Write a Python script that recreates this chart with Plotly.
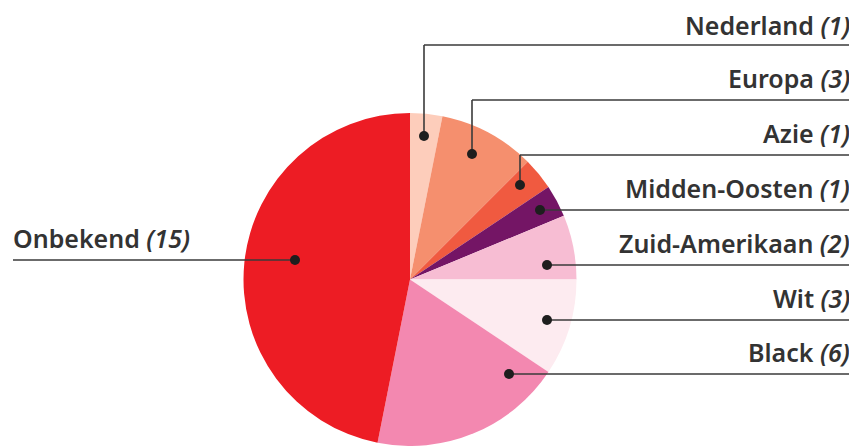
import plotly.graph_objects as go

# page body has an 8px margin, so the figure is drawn 8px smaller and all
# reference pixel positions are shifted by OFF
OFF = 8
W, H = 857 - OFF, 446 - OFF

categories = ["Nederland", "Europa", "Azie", "Midden-Oosten", "Zuid-Amerikaan", "Wit", "Black", "Onbekend"]
values = [1, 3, 1, 1, 2, 3, 6, 15]
colors = ["#FDCDBB", "#F58F6E", "#F05A40", "#741565", "#F7BDD3", "#FDEBF0", "#F388B0", "#ED1C24"]

# label callouts (reference pixel positions): dot x, dot y, horizontal line y
dots = {
    "Nederland": (424, 136, 45),
    "Europa": (472, 154, 100),
    "Azie": (520, 185, 155),
    "Midden-Oosten": (540, 210, 210),
    "Zuid-Amerikaan": (547, 265, 265),
    "Wit": (547, 320, 320),
    "Black": (509, 374, 374),
    "Onbekend": (295, 260, 260),
}

cx, cy, r = 410 - OFF, 280 - OFF, 167
y0 = max(0.0, (H - cy - r) / H)
y1 = (H - cy + r) / H

fig = go.Figure(go.Pie(
    labels=categories, values=values, sort=False, direction="clockwise",
    rotation=0, marker=dict(colors=colors, line=dict(width=0)),
    textinfo="none", hoverinfo="none", showlegend=False,
    domain=dict(x=[(cx - r) / W, (cx + r) / W], y=[y0, y1]),
))

def px(x):
    return (x - OFF) / W

def py(y):
    return 1 - (y - OFF) / H

shapes = []
annotations = []
line_col = "#3a3a3a"
font = dict(family="Noto Sans", size=25, color="#333333", weight=600)
for name, v in zip(categories, values):
    dx, dy, ly = dots[name]
    gap = 2 if name == "Nederland" else 4
    if name == "Onbekend":
        shapes.append(dict(type="line", xref="paper", yref="paper", x0=px(13), x1=px(dx), y0=py(ly), y1=py(ly),
                           line=dict(color=line_col, width=1.6)))
        annotations.append(dict(xref="paper", yref="paper", x=px(12), y=py(ly - gap), xanchor="left", yanchor="bottom",
                                borderpad=0, text=f"{name} <i>({v})</i>", showarrow=False, font=font))
    else:
        if ly != dy:
            shapes.append(dict(type="line", xref="paper", yref="paper", x0=px(dx), x1=px(dx), y0=py(dy), y1=py(ly),
                               line=dict(color=line_col, width=1.6)))
        shapes.append(dict(type="line", xref="paper", yref="paper", x0=px(dx), x1=px(853), y0=py(ly), y1=py(ly),
                           line=dict(color=line_col, width=1.6)))
        annotations.append(dict(xref="paper", yref="paper", x=px(851), y=py(ly - gap), xanchor="right", yanchor="bottom",
                                borderpad=0, text=f"{name} <i>({v})</i>", showarrow=False, font=font))
    shapes.append(dict(type="circle", xref="paper", yref="paper", x0=px(dx - 5), x1=px(dx + 5), y0=py(dy - 5), y1=py(dy + 5),
                       fillcolor="#1e1e1e", line=dict(width=0)))

fig.update_layout(
    width=W, height=H, margin=dict(l=0, r=0, t=0, b=0),
    paper_bgcolor="white", plot_bgcolor="white",
    shapes=shapes, annotations=annotations,
)
fig.write_html("out.html")
